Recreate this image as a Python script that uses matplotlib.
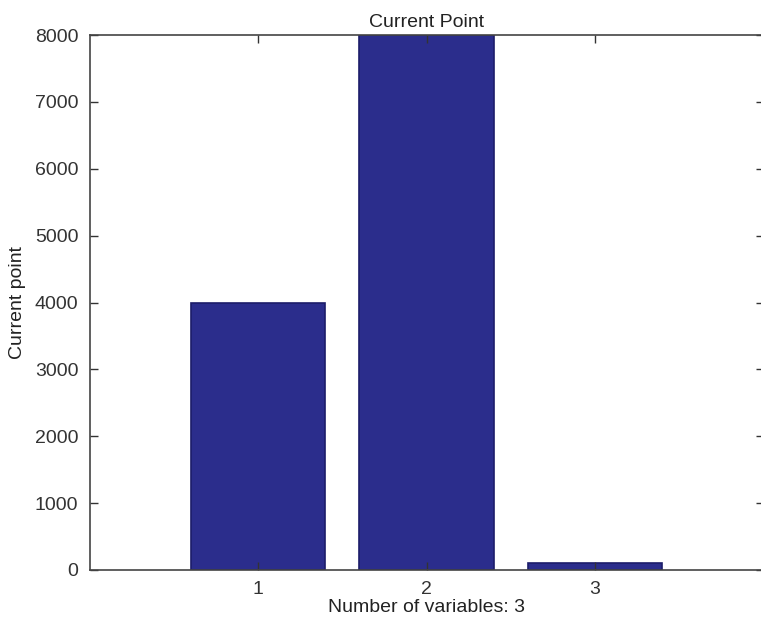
import numpy as np
import matplotlib.pyplot as plt

plt.rcParams['font.family'] = ['Liberation Sans', 'DejaVu Sans']

variables = [1, 2, 3]
valeurs = [4000, 8000, 100]
yticks = [0, 1000, 2000, 3000, 4000, 5000, 6000, 7000, 8000]

fig = plt.figure(figsize=(7.61, 6.28), dpi=100)
# l'axe droit sort de l'image, comme dans l'original
ax = fig.add_axes([89.5 / 761, 58 / 628, 674 / 761, 535 / 628])

ax.bar(variables, valeurs, width=0.8, color='#2b2d8c', edgecolor='#1c1d6a', lw=1.2)

ax.set_xlim(0, 4)
ax.set_ylim(0, 8000)
ax.set_xticks(variables)
ax.set_yticks(yticks)
ax.tick_params(direction='in', length=6, width=1, labelsize=14, colors='#333333',
               top=True, right=True, pad=8)
for s in ax.spines.values():
    s.set_color('#444444')
    s.set_linewidth(1.2)
ax.spines['right'].set_visible(False)

ax.set_title('Current Point', fontsize=14, color='#222222', pad=6)
ax.set_xlabel('Number of variables: 3', fontsize=14, color='#222222', labelpad=1)
ax.set_ylabel('Current point', fontsize=14, color='#222222', labelpad=6)

fig.savefig('out.png', dpi=100)
